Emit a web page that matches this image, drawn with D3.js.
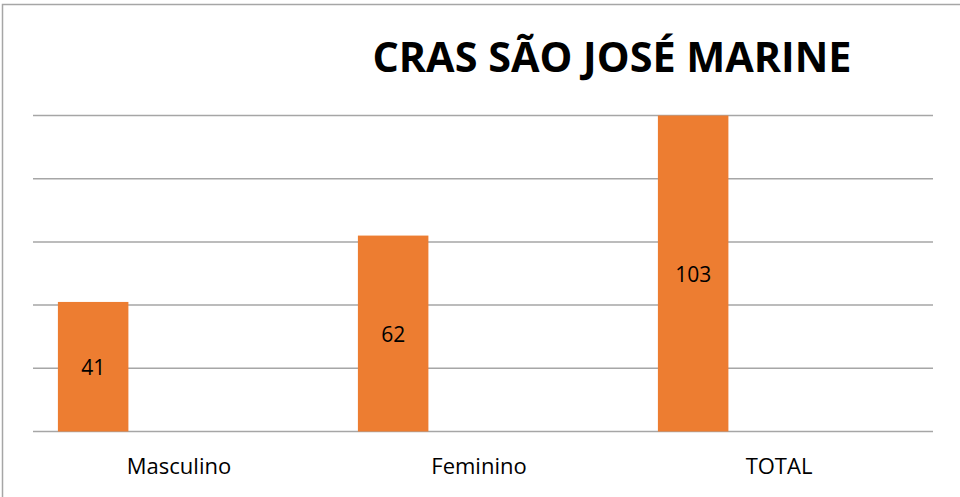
<!DOCTYPE html>
<html>
<head>
<meta charset="utf-8">
<script src="https://cdn.jsdelivr.net/npm/d3@7"></script>
<style>
    body { margin: 0; background: white; }
    svg { display: block; }
</style>
</head>
<body>
<script>
// chart data
const categories = ["Masculino", "Feminino", "TOTAL"]
const values = [41, 62, 103]
const yTicks = [0, 20, 40, 60, 80, 100]
const title = "CRAS SÃO JOSÉ MARINE"

const W = 960, H = 497
const margin = { top: 115.5, right: 27, bottom: 65.5, left: 33 }
const width = W - margin.left - margin.right
const height = H - margin.top - margin.bottom

const svg = d3.select("body")
    .append("svg")
    .attr("width", W)
    .attr("height", H)

// outer frame
svg.append("rect")
    .attr("x", 2.5)
    .attr("y", 4.5)
    .attr("width", W + 10)
    .attr("height", H + 10)
    .attr("fill", "white")
    .attr("stroke", "#a6a6a6")
    .attr("stroke-width", 1.5)

const g = svg.append("g")
    .attr("transform", `translate(${margin.left}, ${margin.top})`)

const xScale = d3.scaleBand()
    .domain(categories)
    .range([0, width])

// axis max is fixed at 100, so the TOTAL bar is clipped at the top line
const yScale = d3.scaleLinear()
    .domain([0, 100])
    .range([height, 0])
    .clamp(true)

// gridlines
g.selectAll("line.grid")
    .data(yTicks)
    .enter()
    .append("line")
    .attr("class", "grid")
    .attr("x1", 0)
    .attr("x2", width)
    .attr("y1", d => yScale(d))
    .attr("y2", d => yScale(d))
    .attr("stroke", "#a6a6a6")
    .attr("stroke-width", 1.5)

const barOffset = xScale.bandwidth() * 0.083
const barWidth = xScale.bandwidth() * 0.235

g.selectAll("rect.bar")
    .data(values)
    .enter()
    .append("rect")
    .attr("class", "bar")
    .attr("x", (d, i) => xScale(categories[i]) + barOffset)
    .attr("y", d => yScale(d))
    .attr("width", barWidth)
    .attr("height", d => height - yScale(d))
    .attr("fill", "#ed7d31")

g.selectAll("text.val")
    .data(values)
    .enter()
    .append("text")
    .attr("class", "val")
    .attr("x", (d, i) => xScale(categories[i]) + barOffset + barWidth / 2)
    .attr("y", d => (yScale(d) + height) / 2 + 1)
    .attr("dy", "0.35em")
    .attr("text-anchor", "middle")
    .style("font-family", "'Open Sans', sans-serif")
    .style("font-size", "21px")
    .style("fill", "#000")
    .text(d => d)

// category labels
const xAxis = d3.axisBottom(xScale).tickSize(0).tickPadding(27)
const ax = g.append("g")
    .attr("transform", `translate(0, ${height})`)
    .call(xAxis)
ax.select(".domain").remove()
ax.selectAll("text")
    .attr("dx", "-4")
    .style("font-family", "'Open Sans', sans-serif")
    .style("font-size", "22px")
    .style("fill", "#000")

const t = svg.append("text")
    .attr("x", 612)
    .attr("y", 72)
    .attr("text-anchor", "middle")
    .style("font-family", "'Open Sans', sans-serif")
    .style("font-weight", "bold")
    .style("font-size", "42px")
    .style("fill", "#000")
    .text(title)
t.attr("textLength", 479).attr("lengthAdjust", "spacingAndGlyphs")
</script>
</body>
</html>
